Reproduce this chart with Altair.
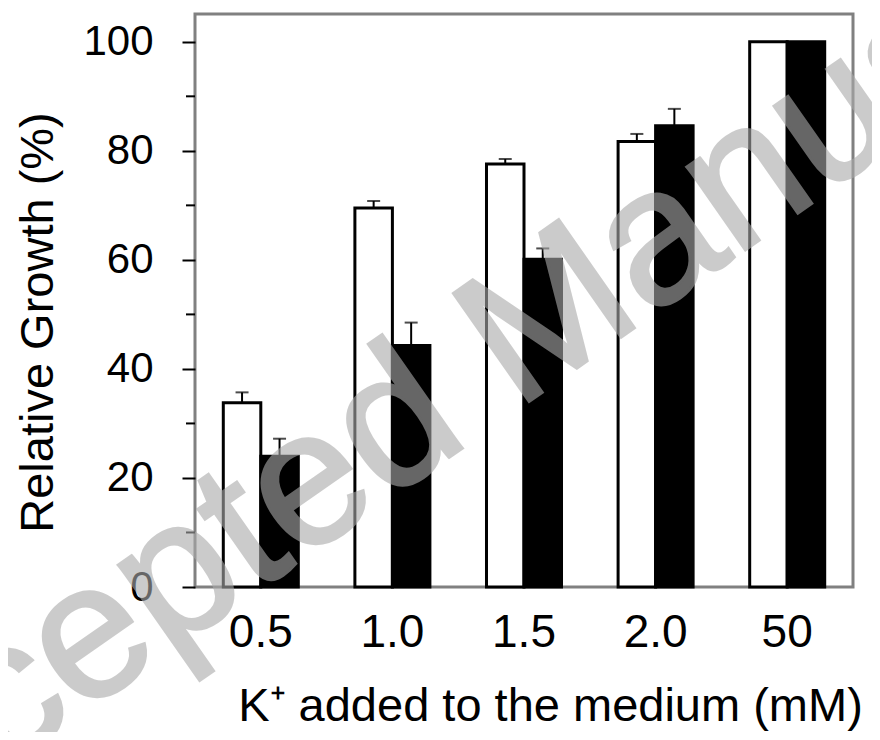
import altair as alt
import pandas as pd

categories = ["0.5", "1.0", "1.5", "2.0", "50"]
series_names = ["open", "filled"]
open_values = [33.8, 69.5, 77.6, 81.7, 100.0]
open_errors = [1.9, 1.3, 0.9, 1.4, 0.0]
filled_values = [24.0, 44.3, 60.1, 84.6, 100.0]
filled_errors = [3.2, 4.2, 2.0, 3.1, 0.0]
major_ticks = [0, 20, 40, 60, 80, 100]
minor_ticks = [10, 30, 50, 70, 90]
watermark = ["Accepted Manuscript"]

rows = []
for i, c in enumerate(categories):
    rows.append({"cat": c, "series": series_names[0], "value": open_values[i],
                 "err": open_errors[i], "hi": open_values[i] + open_errors[i]})
    rows.append({"cat": c, "series": series_names[1], "value": filled_values[i],
                 "err": filled_errors[i], "hi": filled_values[i] + filled_errors[i]})
df = pd.DataFrame(rows)
df_err = df[df["err"] > 0]

FONT = "Liberation Sans"

xscale = alt.Scale(domain=categories, paddingInner=0.43, paddingOuter=0.215)
yscale = alt.Scale(domain=[0, 105.1], nice=False, zero=True)
xoff = alt.XOffset("series:N", scale=alt.Scale(domain=series_names, paddingInner=0))

x_enc = alt.X("cat:N", scale=xscale, sort=categories,
              axis=alt.Axis(title="K⁺ added to the medium (mM)", labelAngle=0,
                            ticks=False, domain=False, labelFontSize=46,
                            labelPadding=23, labelColor="black",
                            titleFontSize=47, titleFontWeight="normal",
                            titleColor="black", titleBaseline="middle",
                            titleAlign="center", titleX=355, titleY=119))
y_enc = alt.Y("value:Q", scale=yscale,
              axis=alt.Axis(title="Relative Growth (%)", values=major_ticks,
                            tickSize=13, tickWidth=2, tickColor="black",
                            domain=False, grid=False, labelFontSize=42,
                            labelColor="black", labelPadding=29,
                            titleFontSize=47, titleFontWeight="normal",
                            titleColor="black", titleAngle=270,
                            titleBaseline="middle", titleAlign="center",
                            titleX=-157, titleY=308))

bars = alt.Chart(df).mark_bar(stroke="black", strokeWidth=3).encode(
    x=x_enc, y=y_enc, xOffset=xoff,
    fill=alt.Fill("series:N", scale=alt.Scale(domain=series_names, range=["white", "black"]), legend=None),
)

err_rules = alt.Chart(df_err).mark_rule(color="black", strokeWidth=2).encode(
    x=alt.X("cat:N", scale=xscale, sort=categories),
    xOffset=xoff,
    y=alt.Y("value:Q", scale=yscale),
    y2="hi:Q",
)
err_caps = alt.Chart(df_err).mark_tick(color="black", thickness=2, size=13).encode(
    x=alt.X("cat:N", scale=xscale, sort=categories),
    xOffset=xoff,
    y=alt.Y("hi:Q", scale=yscale),
)

minor = alt.Chart(pd.DataFrame({"m": minor_ticks})).mark_rule(color="black", strokeWidth=2).encode(
    y=alt.Y("m:Q", scale=yscale),
    x=alt.value(-9), x2=alt.value(0),
)

wm = alt.Chart(pd.DataFrame({"t": watermark})).mark_text(
    font=FONT, fontSize=192, color="#aaaaaa", opacity=0.6, angle=325,
    stroke="#aaaaaa", strokeWidth=3,
    align="center", baseline="alphabetic",
).encode(text="t:N", x=alt.value(356), y=alt.value(372))

chart = alt.layer(bars, err_rules, err_caps, minor, wm).properties(
    width=658, height=573,
    background="white",
    autosize=alt.AutoSizeParams(type="none"),
    padding={"left": 187, "top": 6, "right": 19, "bottom": 145},
).configure_view(stroke="#808080", strokeWidth=3).configure_axis(
    labelFont=FONT, titleFont=FONT
)

chart.save("out.html", embed_options={"renderer": "svg", "actions": False})
